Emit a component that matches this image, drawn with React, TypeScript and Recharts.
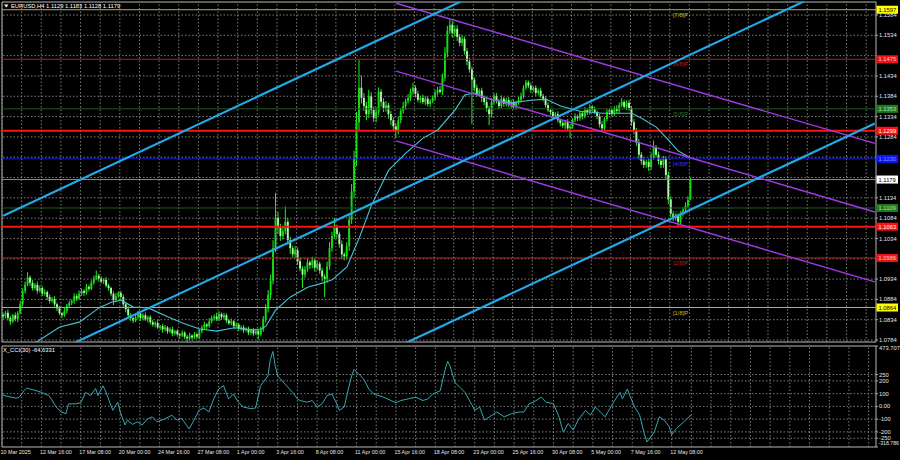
import React from 'react';
import { ComposedChart, Bar, Line, XAxis, YAxis, ReferenceLine, ReferenceArea } from 'recharts';

const FONT = '"Liberation Sans", Arial, sans-serif';
const FS = 5.8;

// ---------- data ----------
const symbol = 'EURUSD,H4';
const dateLabels = [
  '10 Mar 2025', '12 Mar 16:00', '17 Mar 08:00', '20 Mar 00:00', '24 Mar 16:00', '27 Mar 08:00',
  '1 Apr 00:00', '3 Apr 16:00', '8 Apr 08:00', '11 Apr 00:00', '15 Apr 16:00', '18 Apr 08:00',
  '23 Apr 00:00', '25 Apr 16:00', '30 Apr 08:00', '5 May 00:00', '7 May 16:00', '12 May 08:00',
];
const firstOpen = 1.0846;
const closes = [
  1.0842, 1.0851, 1.0838, 1.0830, 1.0845, 1.0836, 1.0850, 1.0872, 1.0905, 1.0920,
  1.0938, 1.0925, 1.0912, 1.0920, 1.0905, 1.0912, 1.0898, 1.0902, 1.0890, 1.0880,
  1.0885, 1.0872, 1.0862, 1.0850, 1.0845, 1.0855, 1.0868, 1.0875, 1.0880, 1.0892,
  1.0886, 1.0898, 1.0905, 1.0900, 1.0915, 1.0910, 1.0925, 1.0935, 1.0942, 1.0935,
  1.0928, 1.0932, 1.0918, 1.0912, 1.0898, 1.0882, 1.0892, 1.0900, 1.0890, 1.0872,
  1.0860, 1.0845, 1.0838, 1.0832, 1.0840, 1.0848, 1.0838, 1.0845, 1.0835, 1.0840,
  1.0828, 1.0822, 1.0826, 1.0815, 1.0818, 1.0810, 1.0815, 1.0805, 1.0810, 1.0800,
  1.0806, 1.0798, 1.0795, 1.0802, 1.0792, 1.0788, 1.0795, 1.0790, 1.0798, 1.0792,
  1.0805, 1.0815, 1.0822, 1.0818, 1.0830, 1.0838, 1.0842, 1.0835, 1.0848, 1.0840,
  1.0845, 1.0832, 1.0825, 1.0830, 1.0818, 1.0822, 1.0812, 1.0815, 1.0808, 1.0812,
  1.0802, 1.0808, 1.0800, 1.0806, 1.0798, 1.0810, 1.0835, 1.0862, 1.0895, 1.0930,
  1.1010, 1.1085, 1.1060, 1.1040, 1.1052, 1.1075, 1.1030, 1.1010, 1.0995, 1.1005,
  1.0978, 1.0960, 1.0945, 1.0958, 1.0975, 1.0968, 1.0980, 1.0962, 1.0972, 1.0955,
  1.0940, 1.0935, 1.0965, 1.1010, 1.1040, 1.1060, 1.1045, 1.1020, 1.0995, 1.0990,
  1.1015, 1.1080, 1.1150, 1.1230, 1.1320, 1.1405, 1.1380, 1.1360, 1.1340, 1.1385,
  1.1350, 1.1330, 1.1345, 1.1395, 1.1370, 1.1355, 1.1362, 1.1340, 1.1325, 1.1310,
  1.1300, 1.1325, 1.1348, 1.1360, 1.1372, 1.1380, 1.1395, 1.1405, 1.1390, 1.1375,
  1.1380, 1.1370, 1.1378, 1.1365, 1.1372, 1.1380, 1.1392, 1.1400, 1.1395, 1.1430,
  1.1490, 1.1545, 1.1560, 1.1540, 1.1550, 1.1530, 1.1515, 1.1525, 1.1495, 1.1470,
  1.1450, 1.1425, 1.1405, 1.1390, 1.1398, 1.1380, 1.1370, 1.1355, 1.1340, 1.1370,
  1.1385, 1.1372, 1.1360, 1.1378, 1.1365, 1.1375, 1.1362, 1.1370, 1.1358, 1.1368,
  1.1375, 1.1385, 1.1405, 1.1418, 1.1410, 1.1400, 1.1405, 1.1392, 1.1398, 1.1385,
  1.1378, 1.1362, 1.1350, 1.1345, 1.1335, 1.1340, 1.1325, 1.1318, 1.1312, 1.1320,
  1.1305, 1.1310, 1.1325, 1.1335, 1.1330, 1.1342, 1.1335, 1.1350, 1.1345, 1.1358,
  1.1352, 1.1345, 1.1335, 1.1315, 1.1305, 1.1328, 1.1345, 1.1350, 1.1340, 1.1355,
  1.1348, 1.1362, 1.1370, 1.1358, 1.1368, 1.1355, 1.1320, 1.1300, 1.1270, 1.1240,
  1.1225, 1.1215, 1.1222, 1.1210, 1.1235, 1.1258, 1.1240, 1.1225, 1.1215, 1.1230,
  1.1190, 1.1130, 1.1095, 1.1085, 1.1090, 1.1075, 1.1095, 1.1105, 1.1115, 1.1129,
  1.1179,
];
// wick lengths in pips above / below the candle body
const upWick = [
  6, 4, 8, 5, 3, 7, 5, 9, 6, 8, 13, 5, 7, 4, 8, 6, 5, 7, 4, 6,
  5, 7, 4, 6, 3, 8, 5, 6, 4, 7, 5, 8, 6, 4, 7, 5, 6, 8, 13, 5,
  6, 4, 7, 5, 3, 6, 8, 4, 5, 6, 4, 7, 5, 3, 6, 8, 4, 5, 7, 4,
  5, 6, 4, 7, 3, 5, 6, 4, 5, 7, 3, 5, 4, 6, 4, 5, 7, 3, 6, 4,
  6, 5, 7, 4, 8, 6, 5, 9, 7, 4, 6, 5, 4, 7, 3, 6, 4, 5, 6, 3,
  5, 4, 6, 3, 5, 7, 8, 10, 12, 15, 20, 61, 14, 10, 12, 38, 9, 8, 6, 10,
  7, 9, 6, 8, 10, 5, 9, 6, 8, 5, 7, 6, 12, 15, 10, 24, 8, 6, 9, 5,
  10, 14, 18, 20, 25, 68, 30, 12, 10, 15, 9, 8, 12, 11, 7, 9, 10, 6, 8, 7,
  8, 9, 7, 10, 6, 9, 8, 12, 6, 7, 5, 8, 6, 7, 5, 6, 8, 7, 9, 10,
  15, 12, 13, 10, 8, 9, 7, 10, 6, 8, 9, 7, 6, 8, 5, 7, 6, 8, 5, 9,
  6, 7, 5, 8, 4, 6, 7, 5, 6, 4, 7, 8, 6, 6, 5, 7, 4, 6, 5, 7,
  5, 6, 7, 4, 6, 5, 7, 4, 6, 5, 8, 6, 5, 7, 4, 6, 5, 7, 4, 6,
  5, 7, 4, 6, 8, 5, 7, 4, 6, 5, 7, 6, 10, 5, 6, 7, 5, 8, 6, 9,
  7, 8, 6, 9, 10, 17, 6, 8, 5, 7, 6, 9, 8, 7, 6, 5, 7, 6, 8, 9,
  4,
];
const dnWick = [
  7, 5, 6, 9, 4, 6, 8, 3, 5, 7, 4, 8, 6, 5, 7, 4, 6, 5, 8, 6,
  4, 6, 7, 5, 8, 4, 6, 3, 5, 7, 6, 4, 5, 8, 4, 6, 3, 5, 4, 7,
  5, 6, 4, 7, 6, 12, 5, 4, 7, 6, 8, 5, 7, 6, 4, 5, 7, 6, 4, 8,
  6, 5, 7, 4, 6, 8, 5, 6, 4, 7, 5, 6, 8, 4, 6, 9, 5, 7, 4, 6,
  5, 4, 6, 7, 4, 5, 6, 4, 5, 7, 5, 6, 4, 5, 7, 4, 6, 5, 7, 4,
  6, 5, 7, 4, 13, 5, 6, 8, 10, 12, 9, 10, 15, 12, 9, 8, 11, 14, 8, 10,
  9, 7, 33, 8, 6, 9, 7, 10, 6, 8, 12, 45, 10, 8, 9, 7, 11, 9, 12, 10,
  8, 12, 10, 15, 18, 20, 14, 12, 15, 10, 11, 9, 10, 8, 12, 10, 9, 11, 12, 10,
  19, 10, 8, 7, 9, 6, 8, 7, 9, 6, 8, 5, 7, 6, 8, 5, 7, 6, 5, 8,
  9, 10, 8, 12, 9, 10, 8, 7, 9, 10, 8, 110, 9, 8, 7, 10, 8, 9, 27, 8,
  7, 6, 8, 5, 7, 6, 5, 8, 6, 7, 5, 6, 7, 5, 6, 8, 5, 7, 6, 5,
  7, 6, 5, 8, 6, 7, 5, 8, 6, 9, 7, 24, 6, 5, 7, 6, 8, 5, 7, 6,
  6, 5, 7, 8, 9, 6, 5, 7, 6, 5, 6, 7, 5, 6, 8, 7, 9, 10, 8, 12,
  9, 8, 7, 10, 8, 7, 6, 9, 8, 7, 10, 12, 9, 8, 7, 12, 6, 7, 5, 6,
  1,
];
// moving average (bar index, value)
const maIdx = [13, 23, 31, 39, 44, 48, 53, 59, 67, 73, 80, 87, 94, 101, 105, 107, 111, 117, 124, 130, 134, 140, 145, 150, 157, 164, 171, 177, 184, 188, 192, 198, 206, 215, 221, 227, 235, 244, 256, 260, 266, 271, 275, 280];
const maVal = [1.0777, 1.0816, 1.0828, 1.0863, 1.0877, 1.0882, 1.0865, 1.0863, 1.0841, 1.0826, 1.0811, 1.0806, 1.0814, 1.0809, 1.0811, 1.0818, 1.0858, 1.0890, 1.0914, 1.0924, 1.0932, 1.0964, 1.1035, 1.1116, 1.1202, 1.1244, 1.1281, 1.1301, 1.1350, 1.1387, 1.1392, 1.1377, 1.1367, 1.1374, 1.1377, 1.1360, 1.1347, 1.1342, 1.1342, 1.1330, 1.1308, 1.1276, 1.1249, 1.1232];
// CCI(30) (bar index, value)
const cciIdx = [0, 2, 6, 7, 9, 10, 13, 16, 19, 20, 22, 24, 26, 27, 30, 32, 34, 36, 38, 39, 41, 42, 45, 47, 48, 50, 51, 53, 55, 57, 59, 61, 63, 66, 69, 71, 73, 76, 78, 80, 82, 84, 86, 88, 90, 91, 92, 94, 96, 98, 101, 103, 105, 108, 109, 110, 111, 112, 115, 118, 120, 121, 124, 126, 128, 130, 132, 134, 136, 137, 139, 141, 142, 143, 145, 147, 149, 151, 155, 158, 160, 162, 165, 168, 171, 173, 175, 178, 180, 181, 182, 184, 186, 188, 191, 192, 194, 196, 199, 201, 204, 207, 210, 212, 214, 216, 219, 221, 224, 226, 228, 230, 232, 234, 237, 239, 241, 243, 245, 248, 251, 252, 254, 255, 257, 259, 261, 262, 265, 267, 269, 271, 272, 274, 277, 280];
const cciVal = [90, 79, 64, 72, 123, 143, 128, 110, 84, 59, -5, -44, -57, 20, 20, 28, 110, 84, 141, 84, 161, 123, -31, 33, -44, -146, -108, -141, -121, -146, -100, -82, -121, -100, -69, -108, -95, -177, -108, -31, -13, -44, 59, 136, 161, 110, 59, 97, 33, -5, -18, -13, 161, 238, 367, 431, 315, 238, 174, 110, 59, 46, 33, 46, -5, 20, 84, 97, 20, -31, -5, 161, 238, 290, 251, 213, 136, 97, 72, 46, 28, 46, 59, 72, 46, 59, 97, 123, 290, 354, 315, 187, 149, 110, 8, -31, -5, -108, -69, -44, -82, -57, -44, -44, 20, 33, 72, 33, 20, -69, -203, -134, -185, -108, -31, -69, -5, -44, -82, 20, 110, 59, 136, 84, -5, -69, -223, -280, -198, -82, -108, -159, -223, -172, -121, -64.6331];

const priceTicks = [1.1584, 1.1534, 1.1434, 1.1384, 1.1334, 1.1284, 1.1134, 1.1084, 1.1034, 1.0934, 1.0884, 1.0834, 1.0784];
const priceGrid = [1.1584, 1.1534, 1.1484, 1.1434, 1.1384, 1.1334, 1.1284, 1.1234, 1.1184, 1.1134, 1.1084, 1.1034, 1.0984, 1.0934, 1.0884, 1.0834, 1.0784];
const cciTicks = [473.707, 250, 200, 100, 0, -100, -200, -250, -318.786];
const cciGrid = [250, 200, 100, 0, -100, -200, -250];

const murreyPrices = [1.1597, 1.1475, 1.1353, 1.1230, 1.1109, 1.0986, 1.0864];
const murreyNames = ['[7/8]P', '[6/8]P', '[5/8]P', '[4/8]P', '[3/8]P', '[2/8]P', '[1/8]P'];
const srLevels = [1.1299, 1.1063];

const blueSpan = [0, 355];
const blueStart = [1.1090, 1.0695, 1.0313];
const blueEnd = [1.2094, 1.1699, 1.1317];
const purpleSpan = [160, 355];
const purpleStart = [1.1613, 1.1446, 1.1274];
const purpleEnd = [1.1268, 1.1099, 1.0927];

const TOTAL_SLOTS = 356;
const PRICE_DOMAIN: [number, number] = [1.07791, 1.1616];
const CCI_DOMAIN: [number, number] = [-318.786, 473.707];

// ---------- styles ----------
const murreyStyle = [
  { line: '#b4ae5c', bg: '#ffff00', fg: '#000000', tag: '#c8c000' },
  { line: '#b81c1c', bg: '#ee1414', fg: '#ffc8c8', tag: '#d01818' },
  { line: '#1d5c1d', bg: '#1f7a1f', fg: '#b0e0b0', tag: '#237023' },
  { line: '#1a1acc', bg: '#0a14ff', fg: '#8898ff', tag: '#2a3cff' },
  { line: '#1d5c1d', bg: '#1f7a1f', fg: '#b0e0b0', tag: '#237023' },
  { line: '#b81c1c', bg: '#ee1414', fg: '#ffc8c8', tag: '#d01818' },
  { line: '#b4ae5c', bg: '#ffff00', fg: '#000000', tag: '#c8c000' },
];
const GRID = '#8a8a8a';
const FRAME = '#b8b8b8';
const AXIS_TEXT = '#e4e4e4';

// ---------- build rows ----------
type Row = { i: number; o?: number; h?: number; l?: number; c?: number; ma?: number; cci?: number };
const rows: Row[] = Array.from({ length: TOTAL_SLOTS }, (_, i) => ({ i }));
closes.forEach((c, i) => {
  const o = i === 0 ? firstOpen : closes[i - 1];
  rows[i].o = o;
  rows[i].c = c;
  rows[i].h = Math.max(o, c) + upWick[i] * 0.0001;
  rows[i].l = Math.min(o, c) - dnWick[i] * 0.0001;
});
maIdx.forEach((k, j) => { rows[k].ma = maVal[j]; });
cciIdx.forEach((k, j) => { rows[k].cci = cciVal[j]; });
const last = rows[closes.length - 1];
const vGrid = Array.from({ length: 45 }, (_, k) => k * 8);
const timeTicks = dateLabels.map((_, k) => k * 16);

// ---------- renderers ----------
const Candle = (props: any) => {
  const { x, y, width, height, payload } = props;
  if (!payload || payload.h == null || !isFinite(y) || !isFinite(height)) return null;
  const { o, h, l, c } = payload;
  const span = h - l || 1e-9;
  const toY = (p: number) => y + ((h - p) / span) * height;
  const cx = x + width / 2;
  const yo = toY(o);
  const yc = toY(c);
  const top = Math.min(yo, yc);
  const bot = Math.max(yo, yc);
  const up = c >= o;
  return (
    <g>
      <line x1={cx} x2={cx} y1={y} y2={y + height} stroke="#22ee22" strokeWidth={1} />
      <rect x={cx - 0.95} y={top} width={1.9} height={Math.max(bot - top, 0.9)} fill={up ? '#10e010' : '#b0f8a8'} />
    </g>
  );
};

const levelLabel = (text: string, bg: string, fg: string, tag?: string, tagColor?: string) => (props: any) => {
  const vb = props && props.viewBox ? props.viewBox : null;
  if (!vb) return null;
  const right = vb.x + vb.width;
  const y = vb.y;
  return (
    <g>
      {tag ? (
        <text x={right - 203} y={y + 7} fill={tagColor} fontSize={FS} fontFamily={FONT}>{tag}</text>
      ) : null}
      <rect x={right + 0.5} y={y - 4} width={21.5} height={8} fill={bg} />
      <text x={right + 2.5} y={y + 2.1} fill={fg} fontSize={FS} fontFamily={FONT}>{text}</text>
    </g>
  );
};

const PriceTick = (props: any) => {
  const { x, y, payload } = props;
  return (
    <text x={x} y={y} dy={2.1} fill={AXIS_TEXT} fontSize={FS} fontFamily={FONT} textAnchor="start">
      {Number(payload.value).toFixed(4)}
    </text>
  );
};

const CciTick = (props: any) => {
  const { x, y, payload } = props;
  const v = Number(payload.value);
  const txt = v === 0 ? '0.00' : Number.isInteger(v) ? String(v) : v.toFixed(3);
  const isMin = v === CCI_DOMAIN[0];
  const dy = v === CCI_DOMAIN[1] ? 4.3 : isMin ? -1.8 : 2.1;
  return (
    <text x={isMin ? x - 0.5 : x} y={y} dy={dy} fill={AXIS_TEXT} fontSize={isMin ? 5.2 : FS} fontFamily={FONT} textAnchor="start">
      {txt}
    </text>
  );
};

const TimeTick = (props: any) => {
  const { x, y, payload } = props;
  const label = dateLabels[Math.round(Number(payload.value) / 16)];
  return (
    <text x={x - 1.5} y={y} dy={7} fill={AXIS_TEXT} fontSize={5.4} fontFamily={FONT} textAnchor="start">
      {label}
    </text>
  );
};

export default function App() {
  return (
    <div style={{ position: 'absolute', left: 0, top: 0, width: 900, height: 460, background: '#000', overflow: 'hidden' }}>
      {/* main price window */}
      <div style={{ position: 'absolute', left: 0, top: 0 }}>
        <ComposedChart width={900} height={344} data={rows} margin={{ top: 2, right: 0, bottom: 2, left: 2 }} barCategoryGap={0}>
          <XAxis dataKey="i" type="category" hide />
          <YAxis
            orientation="right"
            type="number"
            domain={PRICE_DOMAIN}
            allowDataOverflow
            ticks={priceTicks}
            interval={0}
            width={24}
            tickSize={2}
            tickMargin={1}
            axisLine={false}
            tickLine={{ stroke: '#aaaaaa' }}
            tick={(p: any) => <PriceTick {...p} />}
          />
          {priceGrid.map((v) => (
            <ReferenceLine key={'hg' + v} y={v} stroke={GRID} strokeDasharray="1.5 2" strokeWidth={0.9} ifOverflow="hidden" />
          ))}
          {vGrid.map((k) => (
            <ReferenceLine key={'vg' + k} x={k} position="start" stroke={GRID} strokeDasharray="1.5 2" strokeWidth={0.9} />
          ))}
          <ReferenceLine
            y={last.c}
            stroke="#8a8a8a"
            strokeWidth={1}
            label={levelLabel(Number(last.c).toFixed(4), '#ffffff', '#000000')}
          />
          {murreyPrices.map((p, k) => (
            <ReferenceLine
              key={'mm' + k}
              y={p}
              stroke={murreyStyle[k].line}
              strokeWidth={1}
              label={levelLabel(p.toFixed(4), murreyStyle[k].bg, murreyStyle[k].fg, murreyNames[k], murreyStyle[k].tag)}
            />
          ))}
          {srLevels.map((p) => (
            <ReferenceLine
              key={'sr' + p}
              y={p}
              stroke="#ff1010"
              strokeWidth={2}
              label={levelLabel(p.toFixed(4), '#ff1010', '#ffffff')}
            />
          ))}
          <Bar dataKey={(d: Row) => (d.h == null ? null : [d.l, d.h])} shape={(p: any) => <Candle {...p} />} isAnimationActive={false} />
          <Line dataKey="ma" type="linear" stroke="#46c4d4" strokeWidth={1.1} dot={false} connectNulls isAnimationActive={false} />
          {purpleStart.map((s, k) => (
            <ReferenceLine
              key={'pc' + k}
              segment={[{ x: purpleSpan[0], y: s }, { x: purpleSpan[1], y: purpleEnd[k] }]}
              stroke="#a03ce6"
              strokeWidth={1.4}
              ifOverflow="hidden"
            />
          ))}
          {blueStart.map((s, k) => (
            <ReferenceLine
              key={'bc' + k}
              segment={[{ x: blueSpan[0], y: s }, { x: blueSpan[1], y: blueEnd[k] }]}
              stroke="#23a8e8"
              strokeWidth={2.2}
              ifOverflow="hidden"
            />
          ))}
          <ReferenceArea x1={0} x2={TOTAL_SLOTS - 1} y1={PRICE_DOMAIN[0]} y2={PRICE_DOMAIN[1]} fill="none" stroke={FRAME} strokeWidth={1} ifOverflow="visible" />
        </ComposedChart>
      </div>

      {/* CCI window */}
      <div style={{ position: 'absolute', left: 0, top: 344 }}>
        <ComposedChart width={900} height={116} data={rows} margin={{ top: 2, right: 0, bottom: 0, left: 2 }}>
          <XAxis
            dataKey="i"
            type="category"
            ticks={timeTicks}
            interval={0}
            height={13}
            tickSize={0}
            tickMargin={0}
            axisLine={false}
            tickLine={false}
            tick={(p: any) => <TimeTick {...p} />}
          />
          <YAxis
            orientation="right"
            type="number"
            domain={CCI_DOMAIN}
            allowDataOverflow
            ticks={cciTicks}
            interval={0}
            width={24}
            tickSize={2}
            tickMargin={1}
            axisLine={false}
            tickLine={{ stroke: '#aaaaaa' }}
            tick={(p: any) => <CciTick {...p} />}
          />
          {cciGrid.map((v) => (
            <ReferenceLine key={'ch' + v} y={v} stroke={GRID} strokeDasharray="1.5 2" strokeWidth={0.9} />
          ))}
          {vGrid.map((k) => (
            <ReferenceLine key={'cv' + k} x={k} position="start" stroke={GRID} strokeDasharray="1.5 2" strokeWidth={0.9} />
          ))}
          <Line dataKey="cci" type="linear" stroke="#35a9b4" strokeWidth={1} dot={false} connectNulls isAnimationActive={false} />
          <ReferenceArea x1={0} x2={TOTAL_SLOTS - 1} y1={CCI_DOMAIN[0]} y2={CCI_DOMAIN[1]} fill="none" stroke={FRAME} strokeWidth={1} ifOverflow="visible" />
        </ComposedChart>
      </div>

      {/* window captions */}
      <svg width={400} height={460} style={{ position: 'absolute', left: 0, top: 0, pointerEvents: 'none' }}>
        <polygon points="4,4.5 8.5,4.5 6.25,7.5" fill="#ffffff" />
        <text x={11} y={8} fill="#ffffff" fontSize={FS} fontFamily={FONT}>
          {`${symbol}  ${Number(last.o).toFixed(4)} ${Number(last.h).toFixed(4)} ${Number(last.l).toFixed(4)} ${Number(last.c).toFixed(4)}`}
        </text>
        <text x={3} y={352} fill="#ffffff" fontSize={FS} fontFamily={FONT}>
          {`X_CCI(30) ${cciVal[cciVal.length - 1].toFixed(4)}`}
        </text>
      </svg>
    </div>
  );
}
